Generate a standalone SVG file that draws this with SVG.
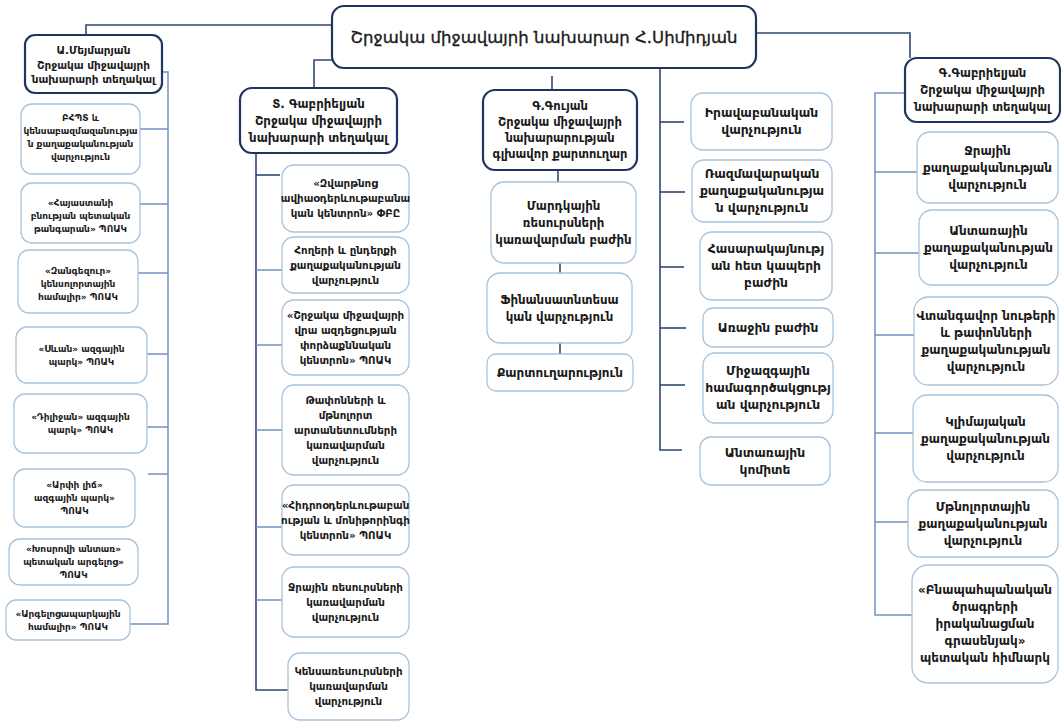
<svg xmlns="http://www.w3.org/2000/svg" width="1061" height="723" viewBox="0 0 1061 723">
<style>
.bg{fill:#ffffff}
.hd{fill:#ffffff;stroke:#1f3560;stroke-width:2.2}
.bx{fill:#ffffff;stroke:#a8c2dc;stroke-width:1.3}
.ln{fill:none;stroke:#2f4776;stroke-width:1.6}
.lt{fill:none;stroke:#6f92c0;stroke-width:1.5}
text{font-family:"DejaVu Sans","Noto Sans",sans-serif;fill:#1a1a1a;text-anchor:middle;font-weight:bold}
.t0{font-size:16.5px;font-weight:normal;stroke:#1a1a1a;stroke-width:0.35}
.t1{font-size:10.5px}
.t1s{font-size:9px}
.t2{font-size:11.8px}
.t2s{font-size:10.3px}
.t3{font-size:11.5px}
.t3s{font-size:11.8px}
.t4{font-size:12.3px}
.t5{font-size:11.6px}
.t6{font-size:12px}
</style>
<rect class="bg" x="0" y="0" width="1061" height="723"/>
<g id="connectors">
<polyline class="ln" points="332,25 86,25 86,35"/>
<polyline class="ln" points="332,60 314,60 314,88"/>
<polyline class="ln" points="756,33 910,33 910,58"/>
<line class="ln" x1="552" y1="76" x2="552" y2="90"/>
<line class="ln" x1="558" y1="170" x2="558" y2="182"/>
<line class="ln" x1="560" y1="263" x2="560" y2="273"/>
<line class="ln" x1="560" y1="343" x2="560" y2="354"/>
<polyline class="lt" points="162,72 168,72 168,624 130,624"/>
<line class="lt" x1="140" y1="129" x2="168" y2="129"/>
<line class="lt" x1="140" y1="204" x2="168" y2="204"/>
<line class="lt" x1="138" y1="273" x2="168" y2="273"/>
<line class="lt" x1="147" y1="354" x2="168" y2="354"/>
<line class="lt" x1="147" y1="427" x2="168" y2="427"/>
<line class="lt" x1="148" y1="474" x2="168" y2="474"/>
<polyline class="ln" points="256,153 256,690 288,690"/>
<line class="ln" x1="256" y1="175" x2="280" y2="175"/>
<line class="lt" x1="256" y1="270" x2="282" y2="270"/>
<line class="lt" x1="256" y1="345" x2="282" y2="345"/>
<line class="lt" x1="256" y1="430" x2="282" y2="430"/>
<line class="lt" x1="256" y1="527" x2="282" y2="527"/>
<line class="lt" x1="256" y1="600" x2="282" y2="600"/>
<polyline class="ln" points="660,68 660,450 682,450"/>
<line class="ln" x1="660" y1="122" x2="684" y2="122"/>
<line class="ln" x1="660" y1="192" x2="685" y2="192"/>
<line class="ln" x1="660" y1="267" x2="684" y2="267"/>
<line class="ln" x1="660" y1="328" x2="686" y2="328"/>
<line class="ln" x1="660" y1="385" x2="685" y2="385"/>
<polyline class="lt" points="905,93 875,93 875,615 912,615"/>
<line class="lt" x1="875" y1="172" x2="917" y2="172"/>
<line class="lt" x1="875" y1="253" x2="919" y2="253"/>
<line class="lt" x1="875" y1="335" x2="920" y2="335"/>
<line class="lt" x1="875" y1="433" x2="913" y2="433"/>
<line class="lt" x1="875" y1="522" x2="908" y2="522"/>
</g>
<g id="minister"><rect class="hd" x="332" y="6" width="424" height="62" rx="12"/><text class="t0" x="544" y="42.8">Շրջակա միջավայրի նախարար Հ.Սիմիդյան</text></g>
<g id="meymaryan"><rect class="hd" x="25" y="35" width="137" height="58" rx="10"/><text class="t1" x="93.5" y="54.3">Ա.Մեյմարյան<tspan x="93.5" dy="14.5">Շրջակա միջավայրի</tspan><tspan x="93.5" dy="14.5">նախարարի տեղակալ</tspan></text></g>
<g id="c1"><rect class="bx" x="21" y="104" width="119" height="70" rx="11"/><text class="t1s" x="80.5" y="120.6">ԲՀՊՏ և<tspan x="80.5" dy="13">կենսաբազմազանությա</tspan><tspan x="80.5" dy="13">ն քաղաքականության</tspan><tspan x="80.5" dy="13">վարչություն</tspan></text></g>
<g id="c2"><rect class="bx" x="21" y="183" width="119" height="60" rx="11"/><text class="t1s" x="80.5" y="206.1">«Հայաստանի<tspan x="80.5" dy="13">բնության պետական</tspan><tspan x="80.5" dy="13">թանգարան» ՊՈԱԿ</tspan></text></g>
<g id="c3"><rect class="bx" x="18" y="250" width="120" height="63" rx="11"/><text class="t1s" x="78" y="274.1">«Զանգեզուր»<tspan x="78" dy="13">կենսոլորտային</tspan><tspan x="78" dy="13">համալիր» ՊՈԱԿ</tspan></text></g>
<g id="c4"><rect class="bx" x="16" y="327" width="131" height="56" rx="11"/><text class="t1s" x="81.5" y="351.6">«Սևան» ազգային<tspan x="81.5" dy="13">պարկ» ՊՈԱԿ</tspan></text></g>
<g id="c5"><rect class="bx" x="14" y="394" width="133" height="59" rx="11"/><text class="t1s" x="80.5" y="419.6">«Դիլիջան» ազգային<tspan x="80.5" dy="13">պարկ» ՊՈԱԿ</tspan></text></g>
<g id="c6"><rect class="bx" x="14" y="469" width="121" height="58" rx="11"/><text class="t1s" x="74.5" y="488.1">«Արփի լիճ»<tspan x="74.5" dy="13">ազգային պարկ»</tspan><tspan x="74.5" dy="13">ՊՈԱԿ</tspan></text></g>
<g id="c7"><rect class="bx" x="9" y="539" width="129" height="46" rx="11"/><text class="t1s" x="73.5" y="552.1">«Խոսրովի անտառ»<tspan x="73.5" dy="13">պետական արգելոց»</tspan><tspan x="73.5" dy="13">ՊՈԱԿ</tspan></text></g>
<g id="c8"><rect class="bx" x="6" y="600" width="124" height="40" rx="10"/><text class="t1s" x="68" y="616.6">«Արգելոցապարկային<tspan x="68" dy="13">համալիր» ՊՈԱԿ</tspan></text></g>
<g id="tgabrielyan"><rect class="hd" x="240" y="88" width="157" height="65" rx="12"/><text class="t2" x="318.5" y="108.1">Տ. Գաբրիելյան<tspan x="318.5" dy="17">Շրջակա միջավայրի</tspan><tspan x="318.5" dy="17">նախարարի տեղակալ</tspan></text></g>
<g id="d1"><rect class="bx" x="282" y="165" width="127" height="67" rx="12"/><text class="t2s" x="345.5" y="186.7">«Զվարթնոց<tspan x="345.5" dy="15">ավիաօդերևութաբանա</tspan><tspan x="345.5" dy="15">կան կենտրոն» ՓԲԸ</tspan></text></g>
<g id="d2"><rect class="bx" x="282" y="237" width="127" height="56" rx="12"/><text class="t2s" x="345.5" y="253.7">Հողերի և ընդերքի<tspan x="345.5" dy="15">քաղաքականության</tspan><tspan x="345.5" dy="15">վարչություն</tspan></text></g>
<g id="d3"><rect class="bx" x="282" y="300" width="127" height="75" rx="12"/><text class="t2s" x="345.5" y="318.7">«Շրջակա միջավայրի<tspan x="345.5" dy="15">վրա ազդեցության</tspan><tspan x="345.5" dy="15">փորձաքննական</tspan><tspan x="345.5" dy="15">կենտրոն» ՊՈԱԿ</tspan></text></g>
<g id="d4"><rect class="bx" x="282" y="385" width="127" height="90" rx="12"/><text class="t2s" x="345.5" y="403.7">Թափոնների և<tspan x="345.5" dy="15">մթնոլորտ</tspan><tspan x="345.5" dy="15">արտանետումների</tspan><tspan x="345.5" dy="15">կառավարման</tspan><tspan x="345.5" dy="15">վարչություն</tspan></text></g>
<g id="d5"><rect class="bx" x="282" y="485" width="127" height="70" rx="12"/><text class="t2s" x="345.5" y="508.7">«Հիդրոօդերևութաբան<tspan x="345.5" dy="15">ության և մոնիթորինգի</tspan><tspan x="345.5" dy="15">կենտրոն» ՊՈԱԿ</tspan></text></g>
<g id="d6"><rect class="bx" x="282" y="567" width="127" height="70" rx="12"/><text class="t2s" x="345.5" y="590.7">Ջրային ռեսուրսների<tspan x="345.5" dy="15">կառավարման</tspan><tspan x="345.5" dy="15">վարչություն</tspan></text></g>
<g id="d7"><rect class="bx" x="288" y="653" width="121" height="67" rx="12"/><text class="t2s" x="348.5" y="675.2">Կենսառեսուրսների<tspan x="348.5" dy="15">կառավարման</tspan><tspan x="348.5" dy="15">վարչություն</tspan></text></g>
<g id="gouyan"><rect class="hd" x="483" y="90" width="154" height="80" rx="12"/><text class="t3" x="560" y="110">Գ.Գույան<tspan x="560" dy="16">Շրջակա միջավայրի</tspan><tspan x="560" dy="16">նախարարության</tspan><tspan x="560" dy="16">գլխավոր քարտուղար</tspan></text></g>
<g id="e1"><rect class="bx" x="491" y="182" width="145" height="81" rx="13"/><text class="t3s" x="563.5" y="209.6">Մարդկային<tspan x="563.5" dy="17">ռեսուրսների</tspan><tspan x="563.5" dy="17">կառավարման բաժին</tspan></text></g>
<g id="e2"><rect class="bx" x="487" y="273" width="145" height="70" rx="13"/><text class="t3s" x="559.5" y="303.6">Ֆինանսատնտեսա<tspan x="559.5" dy="17">կան վարչություն</tspan></text></g>
<g id="e3"><rect class="bx" x="487" y="354" width="146" height="37" rx="9"/><text class="t6" x="560" y="376.7">Քարտուղարություն</text></g>
<g id="f1"><rect class="bx" x="691" y="93" width="141" height="57" rx="12"/><text class="t4" x="761.5" y="117.3">Իրավաբանական<tspan x="761.5" dy="17">վարչություն</tspan></text></g>
<g id="f2"><rect class="bx" x="692" y="160" width="140" height="62" rx="12"/><text class="t4" x="762" y="178.3">Ռազմավարական<tspan x="762" dy="17">քաղաքականությա</tspan><tspan x="762" dy="17">ն վարչություն</tspan></text></g>
<g id="f3"><rect class="bx" x="700" y="232" width="132" height="68" rx="12"/><text class="t4" x="766" y="253.3">Հասարակայնությ<tspan x="766" dy="17">ան հետ կապերի</tspan><tspan x="766" dy="17">բաժին</tspan></text></g>
<g id="f4"><rect class="bx" x="703" y="308" width="130" height="39" rx="10"/><text class="t4" x="768" y="331.8">Առաջին բաժին</text></g>
<g id="f5"><rect class="bx" x="703" y="353" width="130" height="70" rx="12"/><text class="t4" x="768" y="375.3">Միջազգային<tspan x="768" dy="17">համագործակցությ</tspan><tspan x="768" dy="17">ան վարչություն</tspan></text></g>
<g id="f6"><rect class="bx" x="700" y="437" width="130" height="48" rx="11"/><text class="t4" x="765" y="456.8">Անտառային<tspan x="765" dy="17">կոմիտե</tspan></text></g>
<g id="ggabrielyan"><rect class="hd" x="905" y="58" width="155" height="64" rx="12"/><text class="t5" x="982.5" y="77">Գ.Գաբրիելյան<tspan x="982.5" dy="17">Շրջակա միջավայրի</tspan><tspan x="982.5" dy="17">նախարարի տեղակալ</tspan></text></g>
<g id="g1"><rect class="bx" x="917" y="132" width="141" height="71" rx="13"/><text class="t6" x="987.5" y="154.7">Ջրային<tspan x="987.5" dy="17">քաղաքականության</tspan><tspan x="987.5" dy="17">վարչություն</tspan></text></g>
<g id="g2"><rect class="bx" x="919" y="210" width="139" height="75" rx="13"/><text class="t6" x="988.5" y="234.7">Անտառային<tspan x="988.5" dy="17">քաղաքականության</tspan><tspan x="988.5" dy="17">վարչություն</tspan></text></g>
<g id="g3"><rect class="bx" x="914" y="297" width="144" height="88" rx="14"/><text class="t6" x="986" y="319.7">Վտանգավոր նութերի<tspan x="986" dy="17">և թափոնների</tspan><tspan x="986" dy="17">քաղաքականության</tspan><tspan x="986" dy="17">վարչություն</tspan></text></g>
<g id="g4"><rect class="bx" x="913" y="395" width="145" height="87" rx="14"/><text class="t6" x="985.5" y="425.7">Կլիմայական<tspan x="985.5" dy="17">քաղաքականության</tspan><tspan x="985.5" dy="17">վարչություն</tspan></text></g>
<g id="g5"><rect class="bx" x="908" y="490" width="150" height="67" rx="13"/><text class="t6" x="983" y="510.7">Մթնոլորտային<tspan x="983" dy="17">քաղաքականության</tspan><tspan x="983" dy="17">վարչություն</tspan></text></g>
<g id="g6"><rect class="bx" x="912" y="565" width="146" height="118" rx="16"/><text class="t6" x="985" y="594.2">«Բնապահպանական<tspan x="985" dy="17">ծրագրերի</tspan><tspan x="985" dy="17">իրականացման</tspan><tspan x="985" dy="17">գրասենյակ»</tspan><tspan x="985" dy="17">պետական հիմնարկ</tspan></text></g>
</svg>
